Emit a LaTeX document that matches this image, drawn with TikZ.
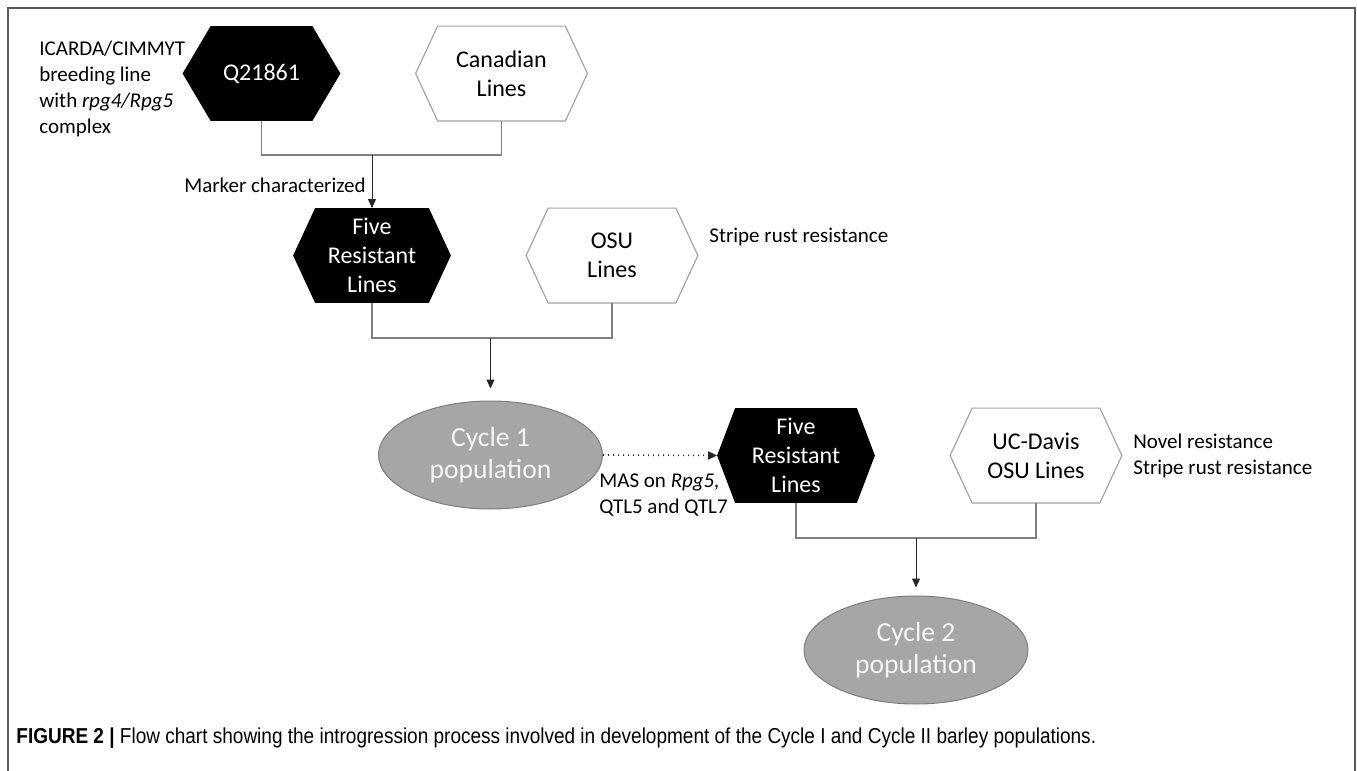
\documentclass[tikz,border=0pt]{standalone}
\usepackage{fontspec}
\setmainfont{Carlito}
\newfontfamily\capfont{Liberation Sans}
\usetikzlibrary{positioning,shapes.geometric,arrows.meta,backgrounds}
\definecolor{framegray}{RGB}{90,90,90}
\definecolor{linegray}{RGB}{128,128,128}
\definecolor{hexgray}{RGB}{165,165,165}
\definecolor{ellfill}{RGB}{166,166,166}
\definecolor{elldraw}{RGB}{125,125,125}
\definecolor{elltext}{RGB}{244,244,244}
\tikzset{
  blackhex/.style={minimum width=78.5pt, minimum height=47pt, inner sep=0pt, align=center,
    text=white, font=\fontsize{12}{14.5}\selectfont},
  whitehex/.style={minimum width=85.5pt, minimum height=47pt, inner sep=0pt, align=center,
    font=\fontsize{12}{14.5}\selectfont},
  popu/.style={ellipse, fill=ellfill, draw=elldraw, line width=0.5pt, inner sep=0pt,
    minimum width=112pt, minimum height=54pt, text=elltext, align=center,
    font=\fontsize{13.8}{16}\selectfont},
  note/.style={align=left, inner sep=0pt, font=\fontsize{10.5}{13}\selectfont},
  conn/.style={draw=linegray, line width=0.6pt},
  arr/.style={draw=black!85, line width=0.5pt, -{Triangle[width=4pt,length=4.5pt]}},
}
\begin{document}
\begin{tikzpicture}[x=0.5pt, y=-0.5pt, node distance=120pt]
    \useasboundingbox (0,0) rectangle (1357,771);
    \draw[framegray, line width=1pt] (8,771) |- (1355,8) -- (1355,771);

    % first cross
    \node[blackhex] (q) at (261.5,73.5) {Q21861};
    \node[whitehex] (can) [right of=q] {Canadian\\Lines};
    \node[note, anchor=west] (icarda) at (39,89) {ICARDA/CIMMYT\\breeding line\\with \textit{rpg4/Rpg5}\\complex};

    % second cross
    \node[blackhex] (five) at (372,255.5) {Five\\Resistant\\Lines};
    \node[whitehex] (osu) [right of=five] {OSU\\Lines};
    \node[note, anchor=east] (marker) at (366,185) {Marker characterized};
    \node[note, anchor=west] (stripe) at (709,237) {Stripe rust resistance};

    % cycle 1
    \node[popu] (cyc1) at (490.5,455) {Cycle 1\\population};
    \node[blackhex] (fivetwo) at (796,455.5) {Five\\Resistant\\Lines};
    \node[whitehex] (ucd) [right of=fivetwo] {UC-Davis\\OSU Lines};
    \node[note, anchor=west] (mas) at (599,495.5) {MAS on \textit{Rpg5,}\\QTL5 and QTL7};
    \node[note, anchor=west] (novel) at (1133,455.5) {Novel resistance\\Stripe rust resistance};

    % cycle 2
    \node[popu] (cyc2) at (916,650) {Cycle 2\\population};

    \begin{scope}[on background layer]
        \foreach \n/\s in {q/14pt,five/11pt,fivetwo/9pt}{
            \fill[black] (\n.west) -- ([xshift=\s]\n.north west) -- ([xshift=-\s]\n.north east)
                -- (\n.east) -- ([xshift=-\s]\n.south east) -- ([xshift=\s]\n.south west) -- cycle;
        }
        \foreach \n in {can,osu,ucd}{
            \filldraw[fill=white, draw=hexgray, line width=0.6pt] (\n.west) -- ([xshift=11pt]\n.north west)
                -- ([xshift=-11pt]\n.north east) -- (\n.east) -- ([xshift=-11pt]\n.south east)
                -- ([xshift=11pt]\n.south west) -- cycle;
        }
    \end{scope}

    % joins
    \coordinate (j1) at (five.north |- 0,155);
    \coordinate (j2) at (cyc1.north |- 0,338);
    \coordinate (j3) at (cyc2.north |- 0,538);

    \draw[conn] (q.south) |- (j1) -| (can.south);
    \draw[arr] (j1) -- (five.north);
    \draw[conn] (five.south) |- (j2) -| (osu.south);
    \draw[arr, shorten >=6pt] (j2) -- (cyc1.north);
    \draw[arr, dotted, line width=0.8pt] (cyc1.east) -- (fivetwo.west);
    \draw[conn] (fivetwo.south) |- (j3) -| (ucd.south);
    \draw[arr, shorten >=4pt] (j3) -- (cyc2.north);

    \node[anchor=west, inner sep=0pt, font=\capfont\fontsize{10.8}{13}\selectfont] (caption) at (16,738)
        {\scalebox{0.88}[1]{\textbf{FIGURE 2 |} Flow chart showing the introgression process involved in development of the Cycle I and Cycle II barley populations.}};
\end{tikzpicture}
\end{document}
